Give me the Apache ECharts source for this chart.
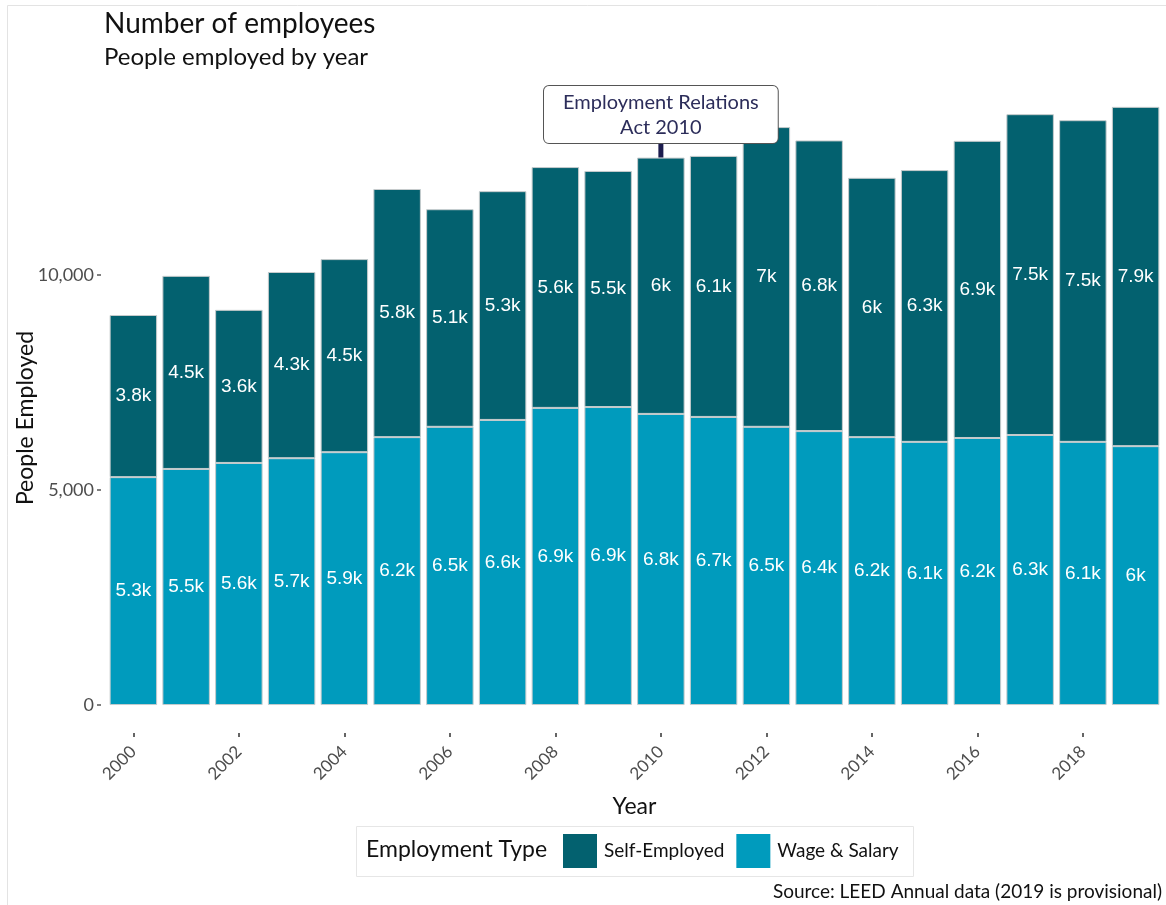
<!DOCTYPE html>
<html>
<head>
<meta charset="utf-8">
<title>Number of employees</title>
<script src="https://cdn.jsdelivr.net/npm/echarts@6/dist/echarts.min.js"></script>
<style>
  html, body { margin: 0; padding: 0; background: #ffffff; }
  #chart { width: 1166px; height: 905px; }
</style>
</head>
<body>
<div id="chart"></div>
<script>
// Employment counts by year (LEED annual data)
const years = ['2000','2001','2002','2003','2004','2005','2006','2007','2008','2009',
               '2010','2011','2012','2013','2014','2015','2016','2017','2018','2019'];
const wageSalary = [5300, 5490, 5630, 5740, 5880, 6230, 6470, 6630, 6910, 6930,
                    6770, 6700, 6470, 6370, 6230, 6120, 6210, 6280, 6120, 6020];
const selfEmployed = [3770, 4490, 3560, 4330, 4490, 5770, 5060, 5320, 5600, 5490,
                      5960, 6070, 6970, 6760, 6030, 6320, 6910, 7460, 7480, 7890];
const yTicks = [0, 5000, 10000];

// Callout for the 2010 legislation
const noteYear = '2010';
const noteLines = ['Employment Relations', 'Act 2010'];
const noteCentre = 13730;   // label centre on the y scale
const noteStemEnd = 13070;  // where the stem meets the label box

const FONT = "'Century Gothic', 'Lato', sans-serif";
const LABEL_FONT = "'Liberation Sans', Arial, sans-serif";
const SELF_COL = '#03616f';
const WAGE_COL = '#009bbd';

const noteIdx = years.indexOf(noteYear);
const noteBarTop = wageSalary[noteIdx] + selfEmployed[noteIdx];

function kFormat(v) {
  return parseFloat((v / 1000).toFixed(1)) + 'k';
}

const chart = echarts.init(document.getElementById('chart'), null, { renderer: 'canvas' });

const barLabel = {
  show: true,
  position: 'inside',
  color: '#ffffff',
  fontFamily: LABEL_FONT,
  fontSize: 19,
  formatter: p => kFormat(p.value)
};

chart.setOption({
  backgroundColor: '#ffffff',
  animation: false,
  title: [
    { text: 'Number of employees', left: 104, top: 10, padding: 0,
      textStyle: { fontFamily: FONT, fontWeight: 'normal', fontSize: 28, color: '#111' } },
    { text: 'People employed by year', left: 104, top: 45, padding: 0,
      textStyle: { fontFamily: FONT, fontWeight: 'normal', fontSize: 24, color: '#111' } }
  ],
  // panel runs slightly below zero, as the x ticks sit under the bars
  grid: { left: 107, right: 4, top: 103, bottom: 172, containLabel: false },
  legend: {
    data: ['Self-Employed', 'Wage & Salary'],
    left: 563, top: 834, padding: 0,
    itemWidth: 34, itemHeight: 34, itemGap: 12,
    icon: 'rect',
    itemStyle: { borderWidth: 0 },
    textStyle: { fontFamily: FONT, fontSize: 19, color: '#111', padding: [0, 0, 0, 2] },
    selectedMode: false
  },
  xAxis: {
    type: 'category',
    data: years,
    name: 'Year',
    nameLocation: 'middle',
    nameGap: 62,
    nameTextStyle: { fontFamily: FONT, fontSize: 23, color: '#111' },
    axisLine: { show: false, onZero: false },
    axisTick: { show: true, alignWithLabel: true, interval: 1, length: 4,
                lineStyle: { color: '#333', width: 1.5 } },
    axisLabel: { interval: 1, rotate: 45, margin: 16,
                 fontFamily: FONT, fontSize: 17, color: '#4d4d4d' }
  },
  yAxis: {
    type: 'value',
    min: -650, max: 14000,
    offset: 6,
    name: 'People Employed',
    nameLocation: 'middle',
    nameRotate: 90,
    nameGap: 64,
    nameMoveOverlap: false,
    nameTextStyle: { fontFamily: FONT, fontSize: 23, color: '#111' },
    splitLine: { show: false },
    axisLine: { show: false },
    axisTick: { show: true, length: 4, customValues: yTicks,
                lineStyle: { color: '#555', width: 1.5 } },
    axisLabel: { margin: 7, customValues: yTicks, fontFamily: FONT, fontSize: 18,
                 color: '#4d4d4d', formatter: v => v.toLocaleString('en-US') }
  },
  series: [
    {
      name: 'Wage & Salary', type: 'bar', stack: 'emp', barWidth: '90%',
      data: wageSalary,
      itemStyle: { color: WAGE_COL, borderColor: '#c6cbcc', borderWidth: 1 },
      label: barLabel
    },
    {
      name: 'Self-Employed', type: 'bar', stack: 'emp', barWidth: '90%',
      data: selfEmployed,
      itemStyle: { color: SELF_COL, borderColor: '#c6cbcc', borderWidth: 1 },
      label: barLabel
    },
    {
      name: 'stem', type: 'line', z: 3,
      data: [[noteYear, noteBarTop], [noteYear, noteStemEnd]],
      symbol: 'none',
      lineStyle: { color: '#1c1c4e', width: 5 },
      silent: true
    },
    {
      name: 'note', type: 'scatter', z: 10, zlevel: 1,
      data: [[noteYear, noteCentre]],
      symbolSize: 0,
      silent: true,
      itemStyle: { opacity: 1 },
      label: {
        show: true, position: 'inside',
        formatter: noteLines.join('\n'),
        fontFamily: FONT, fontSize: 20, lineHeight: 25, color: '#2c2d5a',
        backgroundColor: '#ffffff', borderColor: '#555', borderWidth: 1,
        borderRadius: 5, padding: [4, 19, 3, 19], align: 'center', opacity: 1
      }
    }
  ],
  graphic: [
    { type: 'rect', z: -10, silent: true,
      shape: { x: 7.5, y: 5.5, width: 1200, height: 950 },
      style: { fill: '#ffffff', stroke: '#e3e3e3', lineWidth: 1 } },
    { type: 'rect', z: -5, silent: true,
      shape: { x: 356.5, y: 826.5, width: 557, height: 50 },
      style: { fill: '#ffffff', stroke: '#e6e6e6', lineWidth: 1 } },
    { type: 'text', left: 366, top: 838, silent: true,
      style: { text: 'Employment Type', font: "23px " + FONT, fill: '#111' } },
    { type: 'text', right: 4, top: 882, silent: true,
      style: { text: 'Source: LEED Annual data (2019 is provisional)', font: "19px " + FONT,
               fill: '#111', textAlign: 'right' } }
  ]
});
</script>
</body>
</html>
